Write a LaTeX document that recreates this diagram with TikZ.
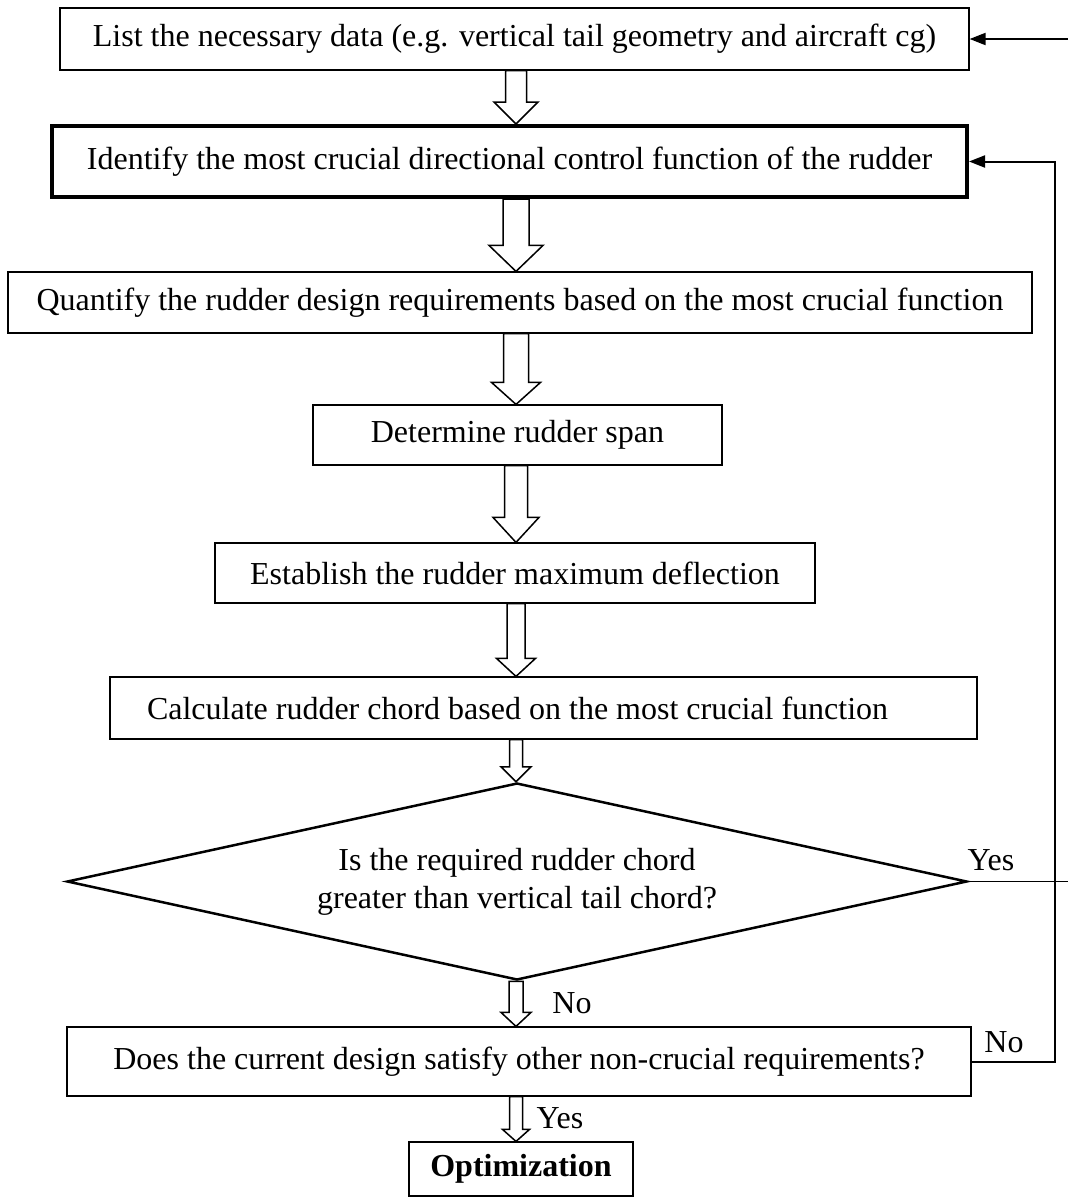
\documentclass[tikz,border=0pt]{standalone}
\usepackage{fontspec}
\setmainfont{Liberation Serif}
\usetikzlibrary{shapes.geometric,arrows.meta,calc}
\newcommand{\hollowarrow}[5]{%
\draw[hollow] let \p1=(#1.south), \p2=(#2.north), \p3=(spine) in
  (\x3-#3pt,\y1) -- (\x3-#3pt,\y2+#5pt) -- (\x3-#4pt,\y2+#5pt) -- (\x3,\y2)
  -- (\x3+#4pt,\y2+#5pt) -- (\x3+#3pt,\y2+#5pt) -- (\x3+#3pt,\y1) -- cycle;}
\begin{document}
\begin{tikzpicture}[x=1pt,y=-1pt,
  box/.style={draw, line width=1.2pt, inner sep=0pt, font=\fontsize{32}{38}\selectfont},
  decision/.style={diamond, aspect=4.57, draw, line width=2.5pt, inner sep=0pt, align=center, font=\fontsize{32}{38}\selectfont},
  lbl/.style={inner sep=0pt, font=\fontsize{32}{38}\selectfont},
  hollow/.style={draw, line width=1.5pt, fill=white},
  arr/.style={line width=2pt, -{Triangle[length=16pt,width=12pt]}}]
\useasboundingbox (0,0) rectangle (1068,1197);
\coordinate (spine) at (516,0);
\coordinate (rail) at (1055,0);
\coordinate (edge) at (1068,0);
\node[box, minimum width=909, minimum height=62] (b1) at (514.5,39) {List the necessary data (e.g. vertical tail geometry and aircraft cg)};
\node[box, line width=4pt, minimum width=915, minimum height=71] (b2) at (509.5,161.5) {Identify the most crucial directional control function of the rudder};
\node[box, minimum width=1024, minimum height=61] (b3) at (520,302.5) {Quantify the rudder design requirements based on the most crucial function};
\node[box, minimum width=409, minimum height=60] (b4) at (517.5,435) {Determine rudder span};
\node[box, minimum width=600, minimum height=60] (b5) at (515,573) {Establish the rudder maximum deflection};
\node[box, inner xsep=37pt, minimum height=62] (b6) at (543.5,708) {\makebox[793pt][l]{Calculate rudder chord based on the most crucial function}};
\node[decision, minimum width=900, minimum height=197] (d) at (517,881.5) {Is the required rudder chord\\greater than vertical tail chord?};
\node[box, minimum width=904, minimum height=69] (b7) at (519,1061.5) {Does the current design satisfy other non-crucial requirements?};
\node[box, minimum width=224, minimum height=54] (b8) at (521,1169) {\textbf{Optimization}};
\hollowarrow{b1}{b2}{10.5}{22}{22}
\hollowarrow{b2}{b3}{13}{27}{26}
\hollowarrow{b3}{b4}{12.5}{24.5}{22}
\hollowarrow{b4}{b5}{11.5}{23}{25}
\hollowarrow{b5}{b6}{9}{19.5}{18}
\hollowarrow{b6}{d}{6.5}{15}{15}
\hollowarrow{d}{b7}{7}{15}{14}
\hollowarrow{b7}{b8}{6.5}{13.5}{12}
\draw[arr] (b1.east -| edge) -- (b1.east);
\draw[line width=1.5pt] (d.east) -- (d.east -| edge);
\draw[arr] (b7.east) -- (b7.east -| rail) -- (b2.east -| rail) -- (b2.east);
\node[lbl] (yes1) at (991,860) {Yes};
\node[lbl] (no1) at (572,1003) {No};
\node[lbl] (no2) at (1004,1042) {No};
\node[lbl] (yes2) at (560,1118) {Yes};
\end{tikzpicture}
\end{document}
